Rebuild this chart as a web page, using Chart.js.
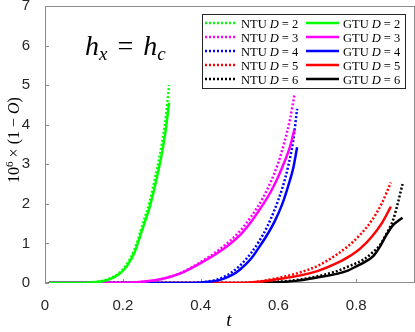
<!DOCTYPE html>
<html>
<head>
<meta charset="utf-8">
<script src="https://cdn.jsdelivr.net/npm/chart.js@4/dist/chart.umd.min.js"></script>
<style>
html, body { margin: 0; padding: 0; background: #fff; }
#wrap { width: 415px; height: 332px; }
</style>
</head>
<body>
<div id="wrap"><canvas id="chart"></canvas></div>
<script>
// bond dimensions and colours
const dims = [2, 3, 4, 5, 6];
const colors = ["#00ff00", "#ff00ff", "#0000ff", "#ff0000", "#000000"];
const xTicks = [0, 0.2, 0.4, 0.6, 0.8];
const yTicks = [0, 1, 2, 3, 4, 5, 6, 7];

// t values and 10^6 x (1-O) for NTU / GTU, per D
const tD2   = [0.01, 0.1, 0.13, 0.15, 0.17, 0.19, 0.21, 0.23, 0.25, 0.27, 0.285, 0.3, 0.31, 0.319];
const ntuD2 = [0, 0, 0.025, 0.06, 0.13, 0.25, 0.47, 0.85, 1.45, 2.1, 2.75, 3.5, 4.15, 5.0];
const gtuD2 = [0, 0, 0.02, 0.05, 0.11, 0.22, 0.42, 0.77, 1.35, 1.95, 2.55, 3.25, 3.85, 4.55];

const tD3   = [0.01, 0.2, 0.25, 0.3, 0.35, 0.4, 0.45, 0.5, 0.53, 0.56, 0.58, 0.6, 0.615, 0.63, 0.641];
const ntuD3 = [0, 0, 0.03, 0.1, 0.26, 0.53, 0.86, 1.3, 1.68, 2.15, 2.55, 3.05, 3.55, 4.15, 4.75];
const gtuD3 = [0, 0, 0.03, 0.1, 0.25, 0.5, 0.8, 1.2, 1.55, 1.98, 2.3, 2.7, 3.05, 3.45, 3.88];

const tD4   = [0.01, 0.38, 0.42, 0.45, 0.48, 0.5, 0.53, 0.55, 0.57, 0.59, 0.61, 0.625, 0.638, 0.648];
const ntuD4 = [0, 0, 0.04, 0.11, 0.27, 0.43, 0.76, 1.05, 1.4, 1.85, 2.4, 2.95, 3.6, 4.4];
const gtuD4 = [0, 0, 0.03, 0.08, 0.2, 0.33, 0.62, 0.9, 1.2, 1.55, 2.0, 2.45, 2.9, 3.43];

const tD5   = [0.01, 0.5, 0.55, 0.6, 0.65, 0.7, 0.75, 0.78, 0.81, 0.84, 0.865, 0.889];
const ntuD5 = [0, 0, 0.04, 0.13, 0.25, 0.43, 0.72, 0.94, 1.22, 1.58, 2.0, 2.54];
const gtuD5 = [0, 0, 0.03, 0.1, 0.18, 0.3, 0.5, 0.66, 0.87, 1.17, 1.5, 1.93];

const tD6   = [0.01, 0.55, 0.6, 0.65, 0.7, 0.75, 0.78, 0.8, 0.82, 0.843, 0.861, 0.878, 0.895, 0.905, 0.919];
const ntuD6 = [0, 0, 0.03, 0.08, 0.17, 0.3, 0.42, 0.5, 0.6, 0.78, 0.96, 1.25, 1.6, 1.95, 2.5];
const gtuD6 = [0, 0, 0.02, 0.06, 0.14, 0.23, 0.32, 0.42, 0.52, 0.67, 0.92, 1.22, 1.47, 1.55, 1.65];

const tAll   = [tD2, tD3, tD4, tD5, tD6];
const ntuAll = [ntuD2, ntuD3, ntuD4, ntuD5, ntuD6];
const gtuAll = [gtuD2, gtuD3, gtuD4, gtuD5, gtuD6];

const SERIF = "'Liberation Serif', 'DejaVu Serif', serif";
const SANS = "'Liberation Sans', Arial, sans-serif";

function pts(t, v)
{
	return t.map(function(x, i) { return { x: x, y: v[i] }; });
}

var datasets = [];
dims.forEach(function(d, i)
{
	datasets.push({
		label: "NTU D = " + d,
		data: pts(tAll[i], ntuAll[i]),
		borderColor: colors[i],
		borderWidth: 2.5,
		borderDash: [2, 2],
		pointRadius: 0,
		cubicInterpolationMode: "monotone"
	});
	datasets.push({
		label: "GTU D = " + d,
		data: pts(tAll[i], gtuAll[i]),
		borderColor: colors[i],
		borderWidth: 2.5,
		pointRadius: 0,
		cubicInterpolationMode: "monotone"
	});
});

// draws a run of [text, font, dy, gap] pieces, returns end x
function drawParts(ctx, parts, x, y)
{
	parts.forEach(function(p)
	{
		ctx.font = p[1];
		ctx.fillText(p[0], x, y + (p[2] || 0));
		x += ctx.measureText(p[0]).width + (p[3] || 0);
	});
	return x;
}

function partsWidth(ctx, parts)
{
	var w = 0;
	parts.forEach(function(p)
	{
		ctx.font = p[1];
		w += ctx.measureText(p[0]).width + (p[3] || 0);
	});
	return w;
}

const frame = {
	id: "frame",
	beforeDatasetsDraw: function(chart)
	{
		const ctx = chart.ctx, a = chart.chartArea;
		const xs = chart.scales.x, ys = chart.scales.y;
		ctx.save();
		ctx.strokeStyle = "#8c8c8c";
		ctx.lineWidth = 1;
		ctx.strokeRect(a.left + 0.5, a.top + 0.5, a.right - a.left - 1, a.bottom - a.top - 1);
		ctx.beginPath();
		xTicks.forEach(function(v)
		{
			var px = Math.round(xs.getPixelForValue(v)) + 0.5;
			ctx.moveTo(px, a.bottom);
			ctx.lineTo(px, a.bottom - 4);
		});
		yTicks.forEach(function(v)
		{
			var py = Math.round(ys.getPixelForValue(v)) + 0.5;
			ctx.moveTo(a.left, py);
			ctx.lineTo(a.left + 4, py);
		});
		ctx.stroke();
		ctx.restore();
	},
	afterDraw: function(chart)
	{
		const ctx = chart.ctx;
		ctx.save();
		ctx.fillStyle = "#000";
		ctx.textBaseline = "alphabetic";

		// in-plot title h_x = h_c
		var big = "italic 28px " + SERIF, sub = "italic 19px " + SERIF, up = "28px " + SERIF;
		drawParts(ctx, [["h", big, 0, 0], ["x", sub, 5, 10], ["=", up, 0, 10], ["h", big, 0, 0], ["c", sub, 5, 0]], 85, 55);

		// x label
		ctx.font = "italic 19px " + SERIF;
		ctx.textAlign = "center";
		ctx.fillText("t", 229, 326);
		ctx.textAlign = "left";

		// y label, rotated
		var yParts = [["10", "16px " + SERIF, 0, 0], ["6", "11px " + SERIF, -6, 4], ["\u00d7", "16px " + SERIF, 0, 4],
			["(1", "16px " + SERIF, 0, 4], ["\u2212", "16px " + SERIF, 0, 4], ["O", "italic 16px " + SERIF, 0, 0], [")", "16px " + SERIF, 0, 0]];
		var w = partsWidth(ctx, yParts);
		ctx.save();
		ctx.translate(19, 140);
		ctx.rotate(-Math.PI / 2);
		drawParts(ctx, yParts, -w / 2, 0);
		ctx.restore();

		// legend box, two columns
		var lx = 202.5, ly = 14.5, lw = 203, lh = 74;
		ctx.fillStyle = "#fff";
		ctx.fillRect(lx, ly, lw, lh);
		ctx.strokeStyle = "#262626";
		ctx.lineWidth = 1;
		ctx.strokeRect(lx, ly, lw, lh);
		ctx.fillStyle = "#000";
		dims.forEach(function(d, i)
		{
			var ry = 23 + 14 * i;
			[["NTU", 205, 237, [2, 2]], ["GTU", 306, 339, []]].forEach(function(c)
			{
				ctx.save();
				ctx.strokeStyle = colors[i];
				ctx.lineWidth = 2.5;
				ctx.setLineDash(c[3]);
				ctx.beginPath();
				ctx.moveTo(c[1], ry);
				ctx.lineTo(c[2], ry);
				ctx.stroke();
				ctx.restore();
				drawParts(ctx, [[c[0] + " ", "12.5px " + SERIF, 0, 0], ["D", "italic 12.5px " + SERIF, 0, 3],
					["=", "12.5px " + SERIF, 0, 3], [String(d), "12.5px " + SERIF, 0, 0]], c[2] + 4, ry + 4.5);
			});
		});
		ctx.restore();
	}
};

new Chart(document.getElementById("chart"), {
	type: "line",
	data: { datasets: datasets },
	options: {
		responsive: true,
		maintainAspectRatio: false,
		animation: false,
		layout: { padding: { top: 6, right: 0, left: 0, bottom: 0 } },
		plugins: { legend: { display: false }, tooltip: { enabled: false } },
		scales: {
			x: {
				type: "linear",
				min: 0,
				max: 0.951,
				grid: { display: false },
				border: { display: false },
				afterBuildTicks: function(s) { s.ticks = xTicks.map(function(v) { return { value: v }; }); },
				afterFit: function(s) { s.height = 49; s.paddingLeft = 0; s.paddingRight = 0; },
				ticks: {
					color: "#262626",
					font: { family: SANS, size: 15 },
					padding: 6,
					maxRotation: 0,
					callback: function(v) { return String(v); }
				}
			},
			y: {
				min: 0,
				max: 7,
				grid: { display: false },
				border: { display: false },
				afterBuildTicks: function(s) { s.ticks = yTicks.map(function(v) { return { value: v }; }); },
				afterFit: function(s) { s.width = 45; s.paddingTop = 0; s.paddingBottom = 0; },
				ticks: {
					color: "#262626",
					font: { family: SANS, size: 15 },
					padding: 7,
					callback: function(v) { return String(v); }
				}
			}
		}
	},
	plugins: [frame]
});
</script>
</body>
</html>
